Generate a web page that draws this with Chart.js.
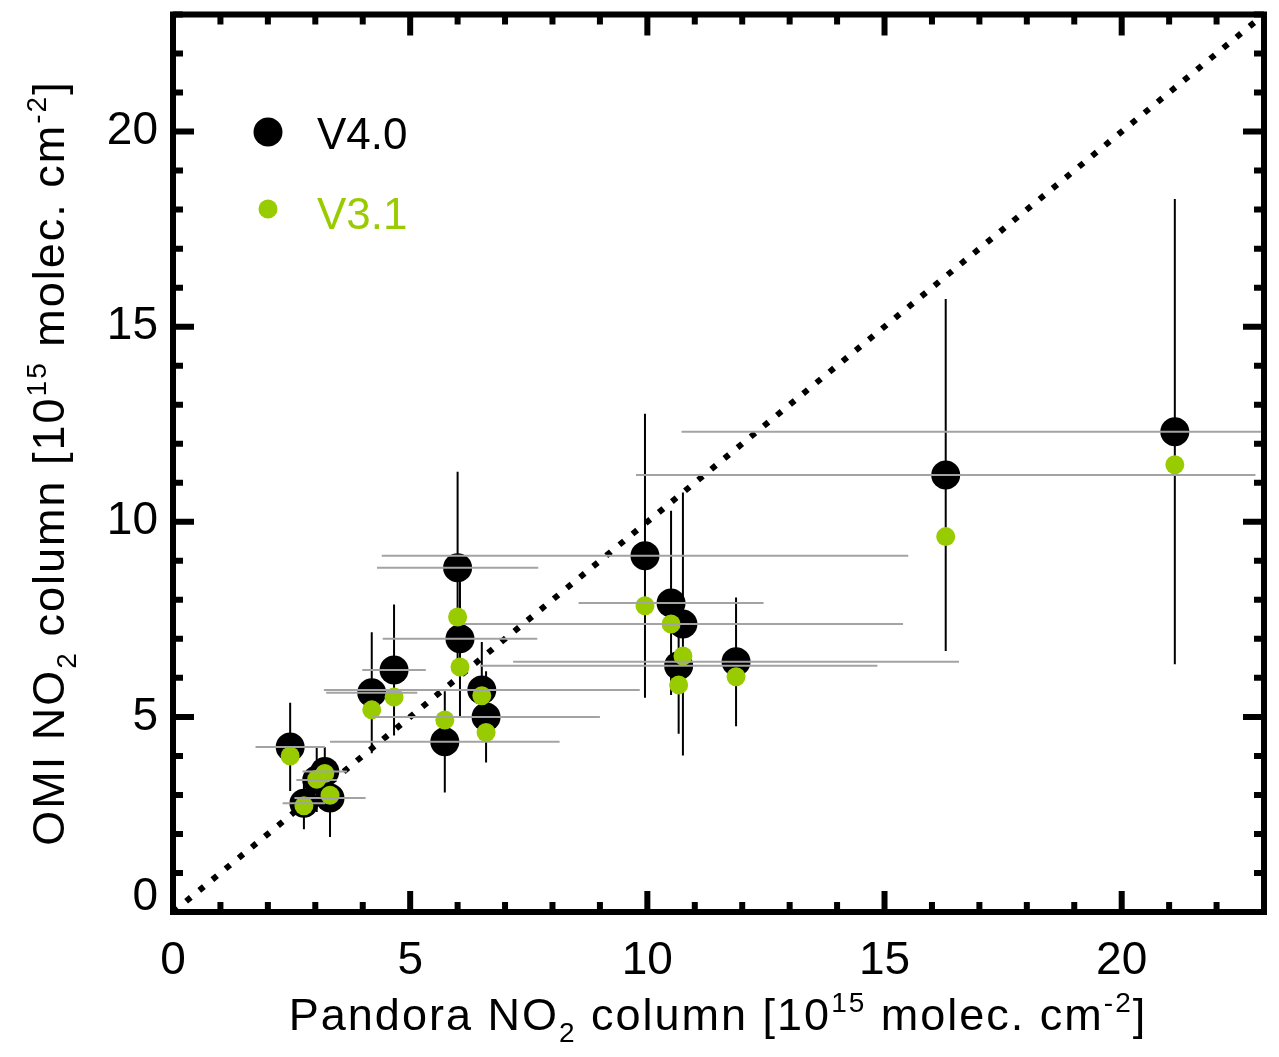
<!DOCTYPE html>
<html lang="en">
<head>
<meta charset="UTF-8">
<title>OMI vs Pandora NO2</title>
<script src="https://cdn.jsdelivr.net/npm/chart.js"></script>
<style>
    html, body { margin: 0; padding: 0; background: #fff; }
    #grafico { display: block; }
</style>
</head>
<body>
<canvas id="grafico" width="1279" height="1057"></canvas>

<script>
    // one entry per Pandora site, units 10^15 molec. cm^-2
    var pandora    = [2.47, 3.03, 3.20, 2.76, 3.31, 4.19, 4.66, 5.73, 6.00, 6.05, 6.51, 6.60, 9.95, 10.50, 10.75, 10.66, 11.87, 16.29, 21.12];
    var pandoraErr = [0.73, 0.43, 0.47, 0.45, 0.75, 0.96, 0.67, 2.42, 1.70, 1.63, 3.33, 2.40, 5.55, 1.95, 4.64, 4.19, 4.70, 6.53, 10.40];
    var omiV40     = [4.23, 3.38, 3.60, 2.79, 2.92, 5.62, 6.20, 4.36, 8.82, 7.00, 5.69, 5.00, 9.13, 7.92, 7.38, 6.31, 6.41, 11.20, 12.31];
    var omiV40Err  = [1.13, 0.82, 0.62, 0.67, 1.00, 1.55, 1.68, 1.30, 2.46, 2.03, 1.23, 1.17, 3.64, 2.36, 3.37, 1.74, 1.65, 4.51, 5.96];
    var omiV31     = [4.00, 3.40, 3.55, 2.72, 2.99, 5.18, 5.51, 4.92, 7.56, 6.28, 5.54, 4.60, 7.85, 7.38, 6.56, 5.82, 6.03, 9.62, 11.46];

    var axisMin = 0;
    var axisMax = 23;
    var tickValues = [0, 5, 10, 15, 20];
    var tickLabels = ['0', '5', '10', '15', '20'];
    var oneToOne = [0, 23];

    var corV31 = '#99cc00';
    var fonte = '"Liberation Sans", Arial, sans-serif';

    function pontos(ys) {
        return pandora.map(function (x, i) { return { x: x, y: ys[i] }; });
    }

    // title pieces: [text, 0 normal | 1 superscript | -1 subscript]
    var tituloX = [['Pandora NO', 0], ['2', -1], [' column [10', 0], ['15', 1], [' molec. cm', 0], ['-2', 1], [']', 0]];
    var tituloY = [['OMI NO', 0], ['2', -1], [' column [10', 0], ['15', 1], [' molec. cm', 0], ['-2', 1], [']', 0]];

    function textoRico(ctx, partes, cx, cy, tam) {
        var pequeno = Math.round(tam * 0.62);
        var larguras = [];
        var total = 0;
        partes.forEach(function (p) {
            ctx.font = (p[1] ? pequeno : tam) + 'px ' + fonte;
            var w = ctx.measureText(p[0]).width;
            larguras.push(w);
            total += w;
        });
        var x = cx - total / 2;
        partes.forEach(function (p, i) {
            ctx.font = (p[1] ? pequeno : tam) + 'px ' + fonte;
            var dy = 0;
            if (p[1] === 1) dy = -tam * 0.40;
            if (p[1] === -1) dy = tam * 0.26;
            ctx.fillText(p[0], x, cy + dy);
            x += larguras[i];
        });
    }

    var barrasErro = {
        id: 'barrasErro',
        // vertical OMI bars go under the markers
        beforeDatasetsDraw: function (chart) {
            var ctx = chart.ctx, xs = chart.scales.x, ys = chart.scales.y, a = chart.chartArea;
            ctx.save();
            ctx.beginPath();
            ctx.rect(a.left, a.top, a.right - a.left, a.bottom - a.top);
            ctx.clip();
            ctx.strokeStyle = '#000';
            ctx.lineWidth = 2;
            for (var i = 0; i < pandora.length; i++) {
                var px = xs.getPixelForValue(pandora[i]);
                ctx.beginPath();
                ctx.moveTo(px, ys.getPixelForValue(omiV40[i] + omiV40Err[i]));
                ctx.lineTo(px, ys.getPixelForValue(omiV40[i] - omiV40Err[i]));
                ctx.stroke();
            }
            ctx.restore();
        },
        // horizontal Pandora bars sit on top
        afterDatasetsDraw: function (chart) {
            var ctx = chart.ctx, xs = chart.scales.x, ys = chart.scales.y, a = chart.chartArea;
            ctx.save();
            ctx.beginPath();
            ctx.rect(a.left, a.top, a.right - a.left, a.bottom - a.top);
            ctx.clip();
            ctx.strokeStyle = '#a3a3a3';
            ctx.lineWidth = 2;
            for (var i = 0; i < pandora.length; i++) {
                var py = ys.getPixelForValue(omiV40[i]);
                ctx.beginPath();
                ctx.moveTo(xs.getPixelForValue(pandora[i] - pandoraErr[i]), py);
                ctx.lineTo(xs.getPixelForValue(pandora[i] + pandoraErr[i]), py);
                ctx.stroke();
            }
            ctx.restore();
        }
    };

    var moldura = {
        id: 'moldura',
        afterDraw: function (chart) {
            var ctx = chart.ctx, xs = chart.scales.x, ys = chart.scales.y, a = chart.chartArea;
            ctx.save();
            ctx.strokeStyle = '#000';
            ctx.lineWidth = 6;
            ctx.strokeRect(a.left, a.top, a.right - a.left, a.bottom - a.top);

            // inward ticks on all four sides
            for (var v = axisMin; v <= axisMax; v++) {
                var len = (v % 5 === 0) ? 21 : 10;
                var px = xs.getPixelForValue(v);
                var py = ys.getPixelForValue(v);
                ctx.beginPath();
                ctx.moveTo(px, a.bottom); ctx.lineTo(px, a.bottom - len);
                ctx.moveTo(px, a.top); ctx.lineTo(px, a.top + len);
                ctx.moveTo(a.left, py); ctx.lineTo(a.left + len, py);
                ctx.moveTo(a.right, py); ctx.lineTo(a.right - len, py);
                ctx.stroke();
            }

            // legend inside the plot
            var ds = chart.data.datasets;
            ctx.fillStyle = '#000';
            ctx.beginPath(); ctx.arc(268, 132, 14.5, 0, Math.PI * 2); ctx.fill();
            ctx.font = '44px ' + fonte;
            ctx.textBaseline = 'alphabetic';
            ctx.fillText(ds[1].label, 317, 149);
            ctx.fillStyle = corV31;
            ctx.beginPath(); ctx.arc(268, 209, 9.5, 0, Math.PI * 2); ctx.fill();
            ctx.fillText(ds[0].label, 317, 229);

            // axis titles
            ctx.fillStyle = '#000';
            if ('letterSpacing' in ctx) ctx.letterSpacing = '2px';
            textoRico(ctx, tituloX, 718, 1030, 45);
            ctx.translate(64, 463);
            ctx.rotate(-Math.PI / 2);
            textoRico(ctx, tituloY, 0, 0, 45);
            ctx.restore();
        }
    };

    function fixarTicks(scale) {
        scale.ticks = tickValues.map(function (v) { return { value: v }; });
    }

    // keep the plot box fixed: no extra room for half tick labels
    function semPadding(s) {
        s.paddingTop = 0;
        s.paddingBottom = 0;
        s.paddingLeft = 0;
        s.paddingRight = 0;
    }

    var config = {
        type: 'scatter',
        data: {
            datasets: [{
                label: 'V3.1',
                data: pontos(omiV31),
                pointRadius: 9.5,
                pointHoverRadius: 9.5,
                backgroundColor: corV31,
                borderWidth: 0,
                order: 1
            }, {
                label: 'V4.0',
                data: pontos(omiV40),
                pointRadius: 14.5,
                pointHoverRadius: 14.5,
                backgroundColor: '#000',
                borderWidth: 0,
                order: 2
            }, {
                label: '1:1',
                data: oneToOne.map(function (v) { return { x: v, y: v }; }),
                showLine: true,
                borderColor: '#000',
                borderWidth: 6,
                borderDash: [6, 11],
                borderCapStyle: 'butt',
                pointRadius: 0,
                order: 3
            }]
        },
        options: {
            responsive: false,
            animation: false,
            layout: { padding: { top: 14, right: 15, left: 0, bottom: 0 } },
            plugins: {
                legend: { display: false },
                tooltip: { enabled: false }
            },
            scales: {
                x: {
                    type: 'linear',
                    min: axisMin,
                    max: axisMax,
                    afterBuildTicks: fixarTicks,
                    afterFit: function (s) { s.height = 145; semPadding(s); },
                    grid: { display: false, drawTicks: false },
                    border: { display: false },
                    ticks: {
                        callback: function (value, index) { return tickLabels[index]; },
                        font: { family: fonte, size: 46 },
                        color: '#000',
                        padding: 22,
                        maxRotation: 0
                    }
                },
                y: {
                    type: 'linear',
                    min: axisMin,
                    max: axisMax,
                    afterBuildTicks: fixarTicks,
                    afterFit: function (s) { s.width = 173; semPadding(s); },
                    grid: { display: false, drawTicks: false },
                    border: { display: false },
                    ticks: {
                        // IDL lifts the bottom label off the x axis; an empty second line does the same
                        callback: function (value, index) {
                            return index === 0 ? [tickLabels[index], ''] : tickLabels[index];
                        },
                        font: { family: fonte, size: 46, lineHeight: 0.65 },
                        color: '#000',
                        padding: 15
                    }
                }
            }
        },
        plugins: [barrasErro, moldura]
    };

    var ctx = document.getElementById('grafico').getContext('2d');
    var grafico = new Chart(ctx, config);
</script>
</body>
</html>
